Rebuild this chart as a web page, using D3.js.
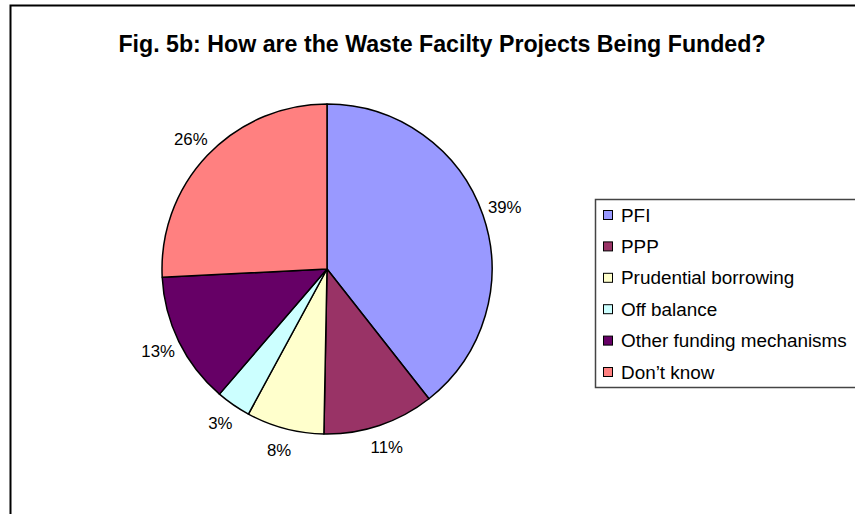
<!DOCTYPE html>
<html>
<head>
<meta charset="utf-8">
<script src="https://cdn.jsdelivr.net/npm/d3@7"></script>
<style>
  html, body { margin: 0; padding: 0; background: #fff; }
  svg { display: block; font-family: Arial, "Liberation Sans", sans-serif; }
</style>
</head>
<body>
<svg id="chart" width="855" height="514"></svg>
<script>
const title = "Fig. 5b: How are the Waste Facilty Projects Being Funded?";
const categories = ["PFI", "PPP", "Prudential borrowing", "Off balance", "Other funding mechanisms", "Don\u2019t know"];
const values = [39.4, 10.9, 7.6, 3.4, 12.9, 25.8];
const colors = ["#9999FF", "#993366", "#FFFFCC", "#CCFFFF", "#660066", "#FF8080"];

const svg = d3.select("#chart");
const W = 855, H = 514;

// outer chart border (right/bottom edges lie beyond the view)
svg.append("rect")
  .attr("x", 10.5).attr("y", 5.5)
  .attr("width", W + 20).attr("height", H + 20)
  .attr("fill", "#fff").attr("stroke", "#000").attr("stroke-width", 2);

// title
svg.append("text")
  .attr("x", 442).attr("y", 52)
  .attr("text-anchor", "middle")
  .attr("font-weight", "bold")
  .attr("font-size", 23.2)
  .attr("fill", "#000")
  .text(title);

const cx = 327, cy = 269, r = 165;
const total = d3.sum(values);
const data = categories.map((c, i) => ({ name: c, value: values[i], color: colors[i] }));

const pie = d3.pie().sort(null).value(d => d.value).startAngle(0).endAngle(2 * Math.PI);
const arcs = pie(data);
const arc = d3.arc().innerRadius(0).outerRadius(r);
const labelArc = d3.arc().innerRadius(r + 23).outerRadius(r + 23);

const g = svg.append("g").attr("transform", `translate(${cx},${cy})`);
g.selectAll("path.slice").data(arcs).enter().append("path")
  .attr("class", "slice")
  .attr("d", arc)
  .attr("fill", d => d.data.color)
  .attr("stroke", "#000")
  .attr("stroke-width", 1.5)
  .attr("stroke-linejoin", "round");

g.selectAll("text.lbl").data(arcs).enter().append("text")
  .attr("class", "lbl")
  .attr("transform", d => `translate(${labelArc.centroid(d)})`)
  .attr("text-anchor", "middle")
  .attr("dominant-baseline", "central")
  .attr("font-size", 16.8)
  .attr("fill", "#000")
  .text(d => Math.round(d.data.value / total * 100) + "%");

// legend
const lx = 595, ly = 199;
svg.append("rect")
  .attr("x", lx + 0.5).attr("y", ly + 0.5)
  .attr("width", 300).attr("height", 188)
  .attr("fill", "#fff").attr("stroke", "#444").attr("stroke-width", 1.5);

const rowY = d3.scalePoint().domain(categories).range([215, 372]);
const lg = svg.append("g");
const rows = lg.selectAll("g").data(data).enter().append("g")
  .attr("transform", d => `translate(0,${rowY(d.name)})`);
rows.append("rect")
  .attr("x", 603.5).attr("y", -4.5)
  .attr("width", 9).attr("height", 9)
  .attr("fill", d => d.color)
  .attr("stroke", "#000").attr("stroke-width", 1);
rows.append("text")
  .attr("x", 621).attr("y", 0)
  .attr("dominant-baseline", "central")
  .attr("font-size", 18.9)
  .attr("fill", "#000")
  .text(d => d.name);
</script>
</body>
</html>
